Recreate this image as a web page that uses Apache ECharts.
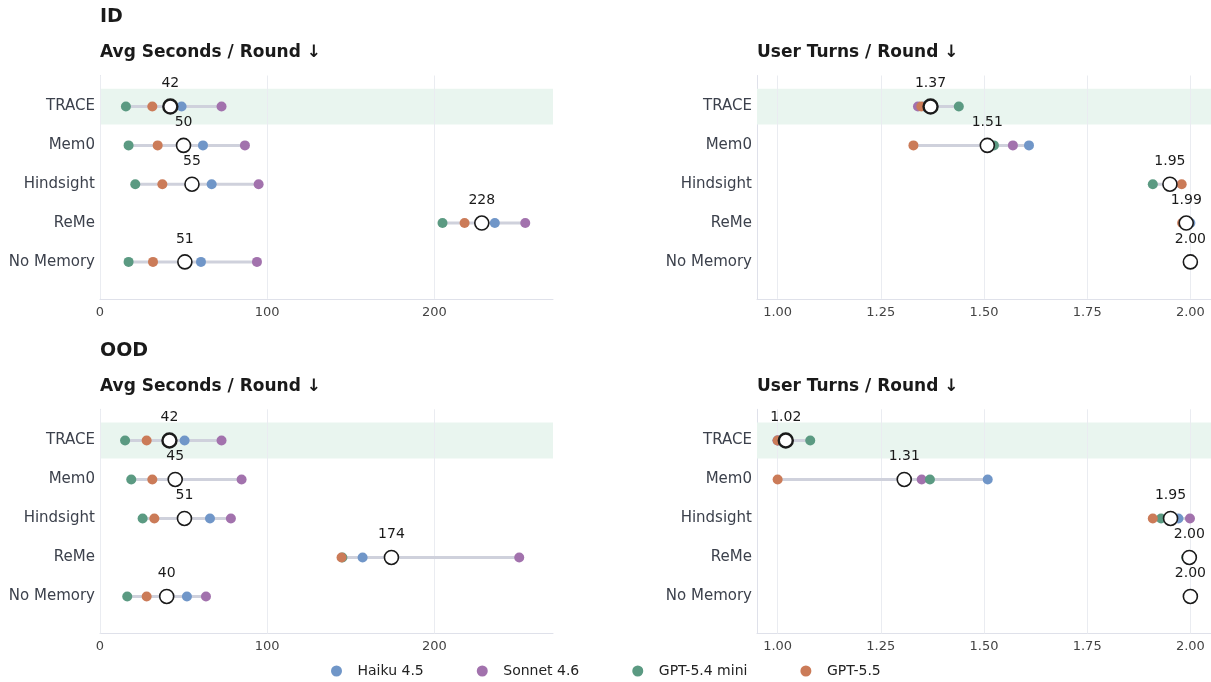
<!DOCTYPE html>
<html>
<head>
<meta charset="utf-8">
<script src="https://cdn.jsdelivr.net/npm/echarts@6/dist/echarts.min.js"></script>
<style>html,body{margin:0;padding:0;background:#fff}#c{width:1211px;height:682px}</style>
</head>
<body>
<div id="c"></div>
<script>
// ---------- data ----------
const categories = ['TRACE', 'Mem0', 'Hindsight', 'ReMe', 'No Memory'];
const models = ['Haiku 4.5', 'Sonnet 4.6', 'GPT-5.4 mini', 'GPT-5.5'];
const modelColors = ['#7096c8', '#a272ad', '#5b9a82', '#cb7b58'];

// ID — Avg Seconds / Round
const idSecHaiku  = [48.8, 61.6, 66.8, 236.2, 60.4];
const idSecSonnet = [72.7, 86.7, 94.9, 254.4, 93.9];
const idSecMini   = [15.5, 17.1, 21.1, 204.9, 17.1];
const idSecGpt    = [31.3, 34.5, 37.3, 218.1, 31.7];
// ID — User Turns / Round
const idTurnHaiku  = [1.355, 1.609, 1.955, 2.00, 2.00];
const idTurnSonnet = [1.340, 1.570, 1.959, 1.99, 2.00];
const idTurnMini   = [1.439, 1.524, 1.909, 1.99, 2.00];
const idTurnGpt    = [1.348, 1.329, 1.979, 1.98, 2.00];
// OOD — Avg Seconds / Round
const oodSecHaiku  = [50.6, 45.3, 65.8, 157.1, 52.0];
const oodSecSonnet = [72.7, 84.7, 78.3, 250.8, 63.4];
const oodSecMini   = [15.0, 18.7, 25.5, 145.0, 16.3];
const oodSecGpt    = [27.9, 31.3, 32.5, 144.5, 27.9];
// OOD — User Turns / Round
const oodTurnHaiku  = [1.000, 1.509, 1.971, 2.00, 2.00];
const oodTurnSonnet = [1.000, 1.349, 1.999, 2.00, 2.00];
const oodTurnMini   = [1.079, 1.369, 1.929, 1.99, 2.00];
const oodTurnGpt    = [1.000, 1.000, 1.909, 2.00, 2.00];

const secTicks = [0, 100, 200];
const turnTicks = [1.00, 1.25, 1.50, 1.75, 2.00];

// ---------- layout ----------
const FONT = 'DejaVu Sans';
const panels = [
  {vals: [idSecHaiku, idSecSonnet, idSecMini, idSecGpt], ticks: secTicks, min: 0, max: 271, fmt: v => String(Math.round(v)),
   grid: {left: 100, top: 75.5, width: 453, height: 223.3}},
  {vals: [idTurnHaiku, idTurnSonnet, idTurnMini, idTurnGpt], ticks: turnTicks, min: 0.95, max: 2.05, fmt: v => v.toFixed(2),
   grid: {left: 757, top: 75.5, width: 454, height: 223.3}},
  {vals: [oodSecHaiku, oodSecSonnet, oodSecMini, oodSecGpt], ticks: secTicks, min: 0, max: 271, fmt: v => String(Math.round(v)),
   grid: {left: 100, top: 409.3, width: 453, height: 224.2}},
  {vals: [oodTurnHaiku, oodTurnSonnet, oodTurnMini, oodTurnGpt], ticks: turnTicks, min: 0.95, max: 2.05, fmt: v => v.toFixed(2),
   grid: {left: 757, top: 409.3, width: 454, height: 224.2}}
];

const grids = [], xAxes = [], yAxes = [], series = [];
panels.forEach((p, pi) => {
  grids.push(Object.assign({containLabel: false}, p.grid));
  xAxes.push({
    type: 'value', gridIndex: pi, min: p.min, max: p.max,
    splitLine: {show: false}, axisTick: {show: false},
    axisLine: {show: true, onZero: false, lineStyle: {color: '#dfe1ea', width: 1}},
    axisLabel: {customValues: p.ticks, formatter: v => (p.ticks === turnTicks ? v.toFixed(2) : String(v)),
      color: '#444', fontFamily: FONT, fontSize: 13, margin: 7}
  });
  yAxes.push({
    type: 'value', gridIndex: pi, inverse: true, min: -0.8, max: 4.95,
    splitLine: {show: false}, axisTick: {show: false},
    axisLine: {show: true, onZero: false, lineStyle: {color: '#dfe1ea', width: 1}},
    axisLabel: {customValues: categories.map((c, i) => i), formatter: v => categories[v] || '',
      color: '#3c414c', fontFamily: FONT, fontSize: 15, margin: 5}
  });
  const mins = categories.map((c, i) => Math.min(...p.vals.map(a => a[i])));
  const maxs = categories.map((c, i) => Math.max(...p.vals.map(a => a[i])));
  const means = categories.map((c, i) => p.vals.reduce((s, a) => s + a[i], 0) / p.vals.length);
  // range lines
  series.push({
    type: 'custom', xAxisIndex: pi, yAxisIndex: pi, z: 6, silent: true,
    data: categories.map((c, i) => [mins[i], maxs[i], i]),
    encode: {x: [0, 1], y: 2},
    renderItem: (params, api) => {
      const s = api.coord([api.value(0), api.value(2)]);
      const e = api.coord([api.value(1), api.value(2)]);
      return {type: 'line', shape: {x1: s[0], y1: s[1], x2: e[0], y2: e[1]},
        style: {stroke: '#cfd1dc', lineWidth: 3, lineCap: 'round'}};
    }
  });
  // model dots
  models.forEach((m, mi) => {
    const s = {
      type: 'scatter', name: m, xAxisIndex: pi, yAxisIndex: pi, z: 10,
      symbol: 'circle', symbolSize: 10, itemStyle: {color: modelColors[mi], opacity: 1},
      data: categories.map((c, i) => [p.vals[mi][i], i]),
      emphasis: {disabled: true}
    };
    if (mi === 0) {
      s.markArea = {silent: true, itemStyle: {color: '#e9f5ef'}, data: [[{yAxis: -0.46}, {yAxis: 0.46}]]};
      s.markLine = {silent: true, symbol: 'none', label: {show: false},
        lineStyle: {color: '#eaecf1', width: 1, type: 'solid'},
        data: p.ticks.map(t => ({xAxis: t}))};
    }
    series.push(s);
  });
  // means
  series.push({
    type: 'scatter', xAxisIndex: pi, yAxisIndex: pi, z: 11,
    symbol: 'circle', symbolSize: 14,
    data: categories.map((c, i) => ({value: [means[i], i],
      itemStyle: {color: '#ffffff', opacity: 1, borderColor: '#1a1a1a', borderWidth: i === 0 ? 2.4 : 1.6}})),
    label: {show: true, position: 'top', distance: 8, color: '#1a1a1a', fontFamily: FONT, fontSize: 14,
      formatter: d => p.fmt(d.value[0])},
    emphasis: {disabled: true}
  });
});

const titleStyle = (size) => ({fontFamily: FONT, fontSize: size, fontWeight: 'bold', color: '#1a1a1a'});
const option = {
  animation: false,
  backgroundColor: '#fff',
  title: [
    {text: 'ID', left: 100, top: 8, padding: 0, textStyle: titleStyle(19)},
    {text: 'Avg Seconds / Round ↓', left: 100, top: 44, padding: 0, textStyle: titleStyle(17)},
    {text: 'User Turns / Round ↓', left: 757, top: 44, padding: 0, textStyle: titleStyle(17)},
    {text: 'OOD', left: 100, top: 342, padding: 0, textStyle: titleStyle(19)},
    {text: 'Avg Seconds / Round ↓', left: 100, top: 378, padding: 0, textStyle: titleStyle(17)},
    {text: 'User Turns / Round ↓', left: 757, top: 378, padding: 0, textStyle: titleStyle(17)}
  ],
  legend: {
    data: models, left: 331, top: 664, padding: 0,
    icon: 'circle', itemWidth: 32, itemHeight: 11, itemGap: 53,
    textStyle: {fontFamily: FONT, fontSize: 14, color: '#222'},
    selectedMode: false
  },
  grid: grids, xAxis: xAxes, yAxis: yAxes, series: series
};
echarts.init(document.getElementById('c'), null, {renderer: 'canvas'}).setOption(option);
</script>
</body>
</html>
